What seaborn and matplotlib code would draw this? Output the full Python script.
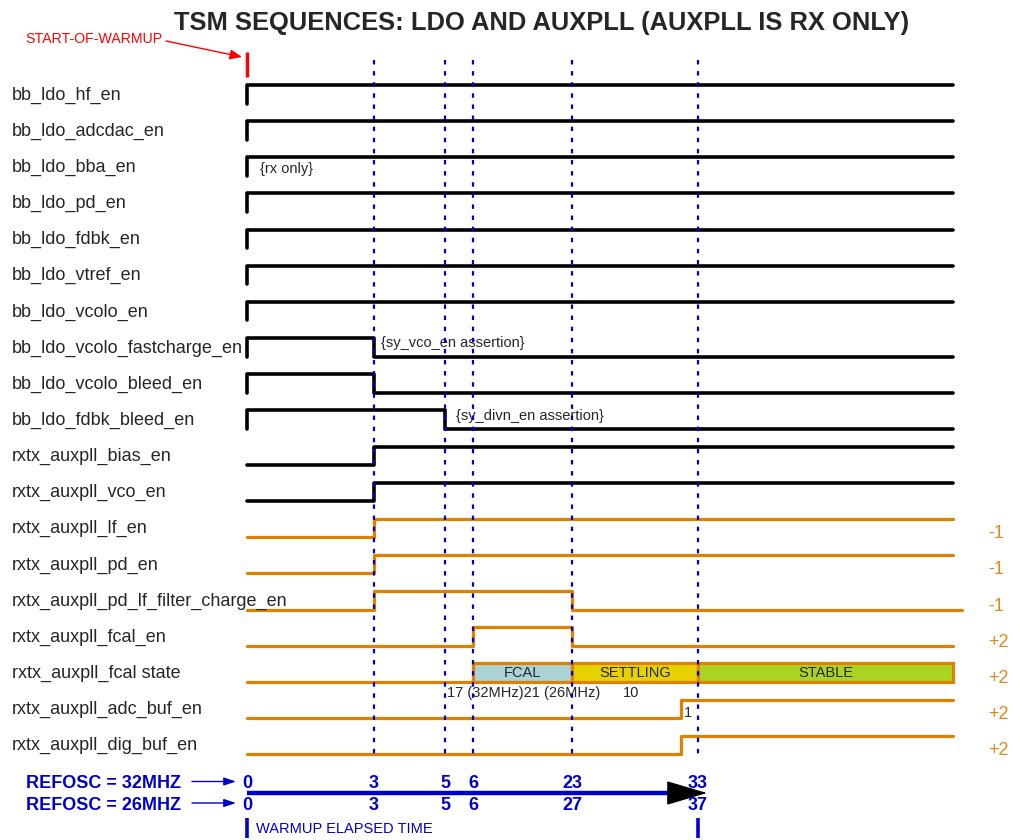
import matplotlib
matplotlib.use("Agg")
import pandas as pd
import seaborn as sns
import matplotlib.pyplot as plt
from matplotlib import font_manager

# Signals, top to bottom

signals = [
    "bb_ldo_hf_en", "bb_ldo_adcdac_en", "bb_ldo_bba_en", "bb_ldo_pd_en",
    "bb_ldo_fdbk_en", "bb_ldo_vtref_en", "bb_ldo_vcolo_en",
    "bb_ldo_vcolo_fastcharge_en", "bb_ldo_vcolo_bleed_en", "bb_ldo_fdbk_bleed_en",
    "rxtx_auxpll_bias_en", "rxtx_auxpll_vco_en", "rxtx_auxpll_lf_en",
    "rxtx_auxpll_pd_en", "rxtx_auxpll_pd_lf_filter_charge_en",
    "rxtx_auxpll_fcal_en", "rxtx_auxpll_fcal state",
    "rxtx_auxpll_adc_buf_en", "rxtx_auxpll_dig_buf_en",
]
n_black = 12
right_marks = ["-1", "-1", "-1", "+2", "+2", "+2", "+2"]

# Waveforms: (event, level) pairs, each level held until the next pair

waves = [
    [("t0", 0), ("t0", 1), ("end", 1)],
    [("t0", 0), ("t0", 1), ("end", 1)],
    [("t0", 0), ("t0", 1), ("end", 1)],
    [("t0", 0), ("t0", 1), ("end", 1)],
    [("t0", 0), ("t0", 1), ("end", 1)],
    [("t0", 0), ("t0", 1), ("end", 1)],
    [("t0", 0), ("t0", 1), ("end", 1)],
    [("t0", 0), ("t0", 1), ("t3", 0), ("end", 0)],
    [("t0", 0), ("t0", 1), ("t3", 0), ("end", 0)],
    [("t0", 0), ("t0", 1), ("t5", 0), ("end", 0)],
    [("t0", 0), ("t3", 1), ("end", 1)],
    [("t0", 0), ("t3", 1), ("end", 1)],
    [("t0", 0), ("t3", 1), ("end", 1)],
    [("t0", 0), ("t3", 1), ("end", 1)],
    [("t0", 0), ("t3", 1), ("t23", 0), ("end_long", 0)],
    [("t0", 0), ("t6", 1), ("t23", 0), ("end", 0)],
    [("t0", 0), ("t6", 0)],
    [("t0", 0), ("t32", 1), ("end", 1)],
    [("t0", 0), ("t32", 1), ("end", 1)],
]

# fcal state machine

states = ["FCAL", "SETTLING", "STABLE"]
state_start = ["t6", "t23", "t33"]
state_stop = ["t23", "t33", "end"]
state_colors = ["#a9d3d6", "#e5d200", "#aad423"]

# Elapsed time markers

tick_events = ["t0", "t3", "t5", "t6", "t23", "t33"]
ticks_32 = ["0", "3", "5", "6", "23", "33"]
ticks_26 = ["0", "3", "5", "6", "27", "37"]

# Schematic column of each event (diagram is not to scale)

event_x = {"t0": 247, "t3": 374, "t5": 445, "t6": 473, "t23": 572,
           "t32": 681, "t33": 698, "end": 953, "end_long": 962}

BLUE = "#0000cc"
ORANGE = "#e08000"

sns.set_theme(style="white")
plt.rcParams["font.family"] = ["Liberation Sans", "DejaVu Sans"]

names = {f.name for f in font_manager.fontManager.ttflist}
if "Liberation Sans Narrow" in names:
    title_font, title_size = ["Liberation Sans Narrow", "Liberation Sans"], 22
else:
    title_font, title_size = ["Liberation Sans", "DejaVu Sans"], 18.4


def row_y(i):
    return 94.5 + 36.15 * i


# Build long table of step points

points = []
for i, (name, w) in enumerate(zip(signals, waves)):
    c = row_y(i)
    for ev, lv in w:
        points.append({
            "signal": name,
            "x": event_x[ev],
            "y": c - 9.5 if lv else c + 9,
            "group": "ldo" if i < n_black else "aux",
        })
df = pd.DataFrame(points)

fig = plt.figure(figsize=(10.13, 8.4), dpi=100)
ax = fig.add_axes([0, 0, 1, 1])

sns.lineplot(data=df[df["group"] == "ldo"], x="x", y="y", units="signal",
             estimator=None, sort=False, color="black", lw=2.6,
             drawstyle="steps-post", ax=ax)
sns.lineplot(data=df[df["group"] == "aux"], x="x", y="y", units="signal",
             estimator=None, sort=False, color=ORANGE, lw=2.3,
             drawstyle="steps-post", ax=ax)

# fcal state bars

c_state = row_y(signals.index("rxtx_auxpll_fcal state"))
for name, a, b, col in zip(states, state_start, state_stop, state_colors):
    x0, x1 = event_x[a], event_x[b]
    ax.barh(c_state - 0.25, x1 - x0, left=x0, height=18.5, color=col,
            edgecolor=ORANGE, linewidth=2.3, zorder=3)
    ax.text((x0 + x1) / 2, c_state + 4.5, name, ha="center", va="baseline",
            fontsize=10.5, zorder=4)

# Vertical event markers

for ev in tick_events[1:]:
    ax.plot([event_x[ev], event_x[ev]], [60, 760], color=BLUE, lw=1.6,
            linestyle=(0, (2, 3)), zorder=5)

# Row labels

for i, name in enumerate(signals):
    ax.text(12, row_y(i) + 5, name, fontsize=13, va="baseline", ha="left")
for k, mark in enumerate(right_marks):
    ax.text(988, row_y(n_black + k) + 10, mark, fontsize=13, color="#e0891a",
            va="baseline", ha="left")

# Notes

ax.text(260, row_y(2) + 6, "{rx only}", fontsize=10.5, va="baseline")
ax.text(381, row_y(7) - 1, "{sy_vco_en assertion}", fontsize=10.5, va="baseline")
ax.text(456, row_y(9), "{sy_divn_en assertion}", fontsize=10.5, va="baseline")
ax.text(447, c_state + 24, "17 (32MHz)21 (26MHz)", fontsize=10.5, va="baseline")
ax.text(631, c_state + 24, "10", fontsize=10.5, va="baseline", ha="center")
ax.text(688, row_y(17) + 8, "1", fontsize=10.5, va="baseline", ha="center")

# Title and start marker

ax.text(542, 30, "TSM SEQUENCES: LDO AND AUXPLL (AUXPLL IS RX ONLY)",
        fontsize=title_size, fontweight="bold", family=title_font,
        ha="center", va="baseline")
ax.text(25, 43, "START-OF-WARMUP", fontsize=10.2, color="red", va="baseline")
ax.annotate("", xy=(242, 57), xytext=(166, 41),
            arrowprops=dict(arrowstyle="-|>,head_length=0.6,head_width=0.25",
                            color="red", lw=1, shrinkA=0, shrinkB=0))
ax.plot([event_x["t0"]] * 2, [52, 77], color="red", lw=2.5,
        solid_capstyle="butt")

# Elapsed time axis

ax.plot([event_x["t0"], 685], [793, 793], color=BLUE, lw=3.2,
        solid_capstyle="butt")
ax.annotate("", xy=(707, 793), xytext=(676, 793),
            arrowprops=dict(arrowstyle="-|>,head_length=2.2,head_width=0.65",
                            color="black", lw=1, shrinkA=0, shrinkB=0))

for base, lab, ticks in [(788, "REFOSC = 32MHZ", ticks_32),
                         (809.5, "REFOSC = 26MHZ", ticks_26)]:
    ax.text(26, base, lab, fontsize=13, fontweight="bold", color=BLUE,
            va="baseline")
    ax.annotate("", xy=(236, base - 6.5), xytext=(192, base - 6.5),
                arrowprops=dict(arrowstyle="-|>,head_length=0.6,head_width=0.2",
                                color=BLUE, lw=1, shrinkA=0, shrinkB=0))
    for ev, t in zip(tick_events, ticks):
        ax.text(event_x[ev], base, t, fontsize=13, fontweight="bold",
                color=BLUE, ha="center", va="baseline")

for ev in ["t0", "t33"]:
    ax.plot([event_x[ev]] * 2, [818, 838], color=BLUE, lw=2.6,
            solid_capstyle="butt")
ax.text(256, 833, "WARMUP ELAPSED TIME", fontsize=10.5, color=BLUE,
        va="baseline")

ax.set_xlim(0, 1013)
ax.set_ylim(840, 0)
ax.axis("off")

fig.savefig("out.png", dpi=100, facecolor="white")
